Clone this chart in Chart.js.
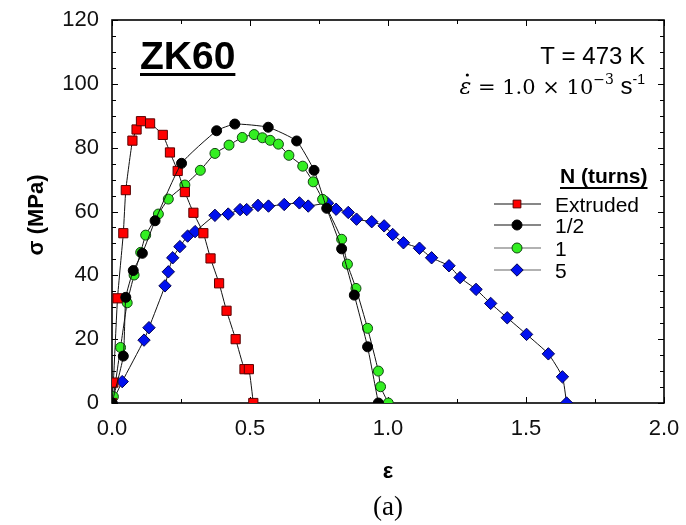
<!DOCTYPE html>
<html>
<head>
<meta charset="utf-8">
<script src="https://cdn.jsdelivr.net/npm/chart.js@4.4.1/dist/chart.umd.min.js"></script>
<style>
  html, body { margin: 0; padding: 0; background: #fff; }
  #wrap { width: 686px; height: 525px; }
</style>
</head>
<body>
<div id="wrap"><canvas id="cv" width="686" height="525"></canvas></div>
<script>
// strain / stress curves, one pair of arrays per condition
var extrudedX = [0, 0.005, 0.02, 0.041, 0.05, 0.074, 0.089, 0.105, 0.138, 0.184, 0.21, 0.238, 0.264, 0.295, 0.331, 0.357, 0.388, 0.415, 0.448, 0.48, 0.496, 0.512];
var extrudedY = [0, 6.4, 32.8, 53.2, 66.7, 82.2, 85.7, 88.3, 87.6, 84.0, 78.5, 72.7, 66.1, 59.6, 53.2, 45.3, 37.5, 28.9, 20.0, 10.6, 10.6, 0];

var halfX = [0, 0.041, 0.05, 0.077, 0.11, 0.156, 0.252, 0.379, 0.445, 0.566, 0.669, 0.732, 0.778, 0.832, 0.878, 0.926, 0.965];
var halfY = [0, 14.7, 33.1, 41.5, 46.9, 57.1, 75.1, 85.3, 87.4, 86.4, 82.1, 72.9, 61.0, 48.3, 33.8, 17.6, 0];

var oneX = [0, 0.005, 0.031, 0.055, 0.08, 0.104, 0.122, 0.168, 0.204, 0.264, 0.32, 0.373, 0.424, 0.472, 0.515, 0.545, 0.573, 0.603, 0.641, 0.691, 0.729, 0.763, 0.832, 0.853, 0.884, 0.926, 0.965, 0.973, 1.001];
var oneY = [0, 2.0, 17.4, 31.4, 40.1, 47.2, 52.6, 59.2, 63.9, 68.3, 72.9, 78.2, 80.8, 83.2, 84.1, 83.1, 82.3, 81.1, 77.6, 74.2, 69.3, 63.8, 51.3, 43.5, 35.9, 23.4, 10.0, 5.1, 0];

var fiveX = [0, 0.037, 0.116, 0.134, 0.192, 0.204, 0.22, 0.246, 0.274, 0.301, 0.373, 0.421, 0.464, 0.488, 0.529, 0.567, 0.624, 0.679, 0.711, 0.781, 0.812, 0.856, 0.886, 0.941, 0.986, 1.017, 1.056, 1.114, 1.158, 1.221, 1.261, 1.319, 1.372, 1.432, 1.502, 1.581, 1.632, 1.647];
var fiveY = [0, 6.7, 19.7, 23.6, 36.7, 41.1, 45.5, 49.0, 52.3, 53.7, 58.8, 59.2, 60.6, 60.6, 61.9, 61.7, 62.2, 62.7, 61.7, 62.6, 60.7, 59.7, 57.6, 56.8, 55.5, 52.8, 50.2, 48.5, 45.5, 43.0, 39.3, 35.6, 31.2, 26.7, 21.5, 15.4, 8.2, 0];

var seriesLabels = ['Extruded', '1/2', '1', '5'];
var xTicks = [0, 0.5, 1.0, 1.5, 2.0];
var yTicks = [0, 20, 40, 60, 80, 100, 120];

function pts(xs, ys) {
    return xs.map(function (x, i) { return { x: x, y: ys[i] }; });
}

function serie(label, xs, ys, style, radius, fill, border, order) {
    return {
        label: label,
        data: pts(xs, ys),
        showLine: true,
        borderColor: '#111',
        borderWidth: 1,
        tension: 0.15,
        pointStyle: style,
        pointRadius: radius,
        pointBackgroundColor: fill,
        pointBorderColor: border,
        pointBorderWidth: 1,
        order: order
    };
}

var datasets = [
    serie(seriesLabels[0], extrudedX, extrudedY, 'rect', 6.5, '#ff0000', '#5a0000', 1),
    serie(seriesLabels[1], halfX, halfY, 'circle', 5, '#000000', '#000000', 0),
    serie(seriesLabels[2], oneX, oneY, 'circle', 5, '#33ee22', '#114411', 2),
    serie(seriesLabels[3], fiveX, fiveY, 'rectRot', 6.2, '#0010ee', '#000050', 3)
];

var FONT = '"Liberation Sans", Arial, sans-serif';

// frame + inward ticks on all 4 sides
var frameTicks = {
    id: 'frameTicks',
    beforeDatasetsDraw: function (chart) {
        var ctx = chart.ctx, a = chart.chartArea;
        var xs = chart.scales.x, ys = chart.scales.y;
        ctx.save();
        ctx.strokeStyle = '#000';
        ctx.lineWidth = 1;
        var v, p, len;
        for (v = 0; v <= 2.0001; v += 0.25) {
            p = Math.round(xs.getPixelForValue(v)) + 0.5;
            len = (Math.abs(v * 2 - Math.round(v * 2)) < 1e-6) ? 6 : 4;
            ctx.beginPath();
            ctx.moveTo(p, a.bottom); ctx.lineTo(p, a.bottom - len);
            ctx.moveTo(p, a.top); ctx.lineTo(p, a.top + len);
            ctx.stroke();
        }
        for (v = 0; v <= 120; v += 5) {
            p = Math.round(ys.getPixelForValue(v)) + 0.5;
            len = (v % 20 === 0) ? 6 : 4;
            ctx.beginPath();
            ctx.moveTo(a.left, p); ctx.lineTo(a.left + len, p);
            ctx.moveTo(a.right, p); ctx.lineTo(a.right - len, p);
            ctx.stroke();
        }
        ctx.lineWidth = 1.6;
        ctx.strokeRect(a.left, a.top, a.right - a.left, a.bottom - a.top);
        ctx.restore();
    }
};

// annotations, legend box and axis titles
var texts = {
    id: 'texts',
    afterDraw: function (chart) {
        var ctx = chart.ctx;
        ctx.save();
        ctx.fillStyle = '#000';
        ctx.strokeStyle = '#000';
        ctx.textBaseline = 'alphabetic';

        // ZK60
        ctx.font = 'bold 39px ' + FONT;
        ctx.textAlign = 'left';
        ctx.fillText('ZK60', 140, 69);
        var w = ctx.measureText('ZK60').width;
        ctx.fillRect(140, 73, w, 3);

        // T = 473 K
        ctx.font = '24px ' + FONT;
        ctx.textAlign = 'right';
        ctx.fillText('T = 473 K', 645, 64);

        // strain rate line, laid out left to right from its right edge
        var serif = '"DejaVu Serif", "Liberation Serif", serif';
        var parts = [
            { t: '\u03b5', f: 'italic 22px ' + serif, dy: 0 },
            { t: ' = 1.0 \u00d7 10', f: '21px ' + serif, dy: 0 },
            { t: '\u22123', f: '14px ' + serif, dy: -10 },
            { t: ' s', f: '24px ' + FONT, dy: 0 },
            { t: '-1', f: '14px ' + FONT, dy: -10 }
        ];
        var total = 0;
        parts.forEach(function (p) { ctx.font = p.f; p.w = ctx.measureText(p.t).width; total += p.w; });
        var x = 645 - total, base = 94;
        ctx.textAlign = 'left';
        parts.forEach(function (p, i) {
            ctx.font = p.f;
            ctx.fillText(p.t, x, base + p.dy);
            if (i === 0) {
                ctx.beginPath();
                ctx.arc(x + p.w / 2 + 2, base - 19, 1.6, 0, Math.PI * 2);
                ctx.fill();
            }
            x += p.w;
        });

        // legend
        ctx.font = 'bold 21px ' + FONT;
        ctx.fillText('N (turns)', 560, 183);
        w = ctx.measureText('N (turns)').width;
        ctx.fillRect(560, 187, w, 2);
        var rows = [204, 225, 248, 270];
        ctx.font = '21px ' + FONT;
        chart.data.datasets.forEach(function (ds, i) {
            var y = rows[i];
            ctx.strokeStyle = i < 2 ? '#111' : '#666';
            ctx.lineWidth = 1.2;
            ctx.beginPath();
            ctx.moveTo(494, y); ctx.lineTo(541, y);
            ctx.stroke();
            ctx.fillStyle = ds.pointBackgroundColor;
            ctx.strokeStyle = ds.pointBorderColor;
            ctx.lineWidth = 1;
            Chart.helpers.drawPoint(ctx, {
                pointStyle: ds.pointStyle,
                radius: ds.pointStyle === 'rect' ? 5.5 : ds.pointRadius,
                rotation: 0,
                borderWidth: 1
            }, 517, y);
            ctx.fillStyle = '#000';
            ctx.fillText(ds.label, 555, y + 8);
        });

        // axis titles
        ctx.font = 'bold 22px ' + FONT;
        ctx.textAlign = 'center';
        ctx.fillText('\u03b5', 388, 478);
        ctx.save();
        ctx.translate(43, 215);
        ctx.rotate(-Math.PI / 2);
        ctx.fillText('\u03c3 (MPa)', 0, 0);
        ctx.restore();

        ctx.font = '27px "Liberation Serif", "Times New Roman", serif';
        ctx.fillText('(a)', 388, 515);
        ctx.restore();
    }
};

var chart = new Chart(document.getElementById('cv').getContext('2d'), {
    type: 'scatter',
    data: { datasets: datasets },
    options: {
        responsive: false,
        animation: false,
        layout: { padding: { top: 20, right: 22, left: 0, bottom: 0 } },
        plugins: { legend: { display: false }, tooltip: { enabled: false } },
        scales: {
            x: {
                type: 'linear',
                min: 0, max: 2,
                afterFit: function (s) { s.height = 122; s.paddingLeft = 0; s.paddingRight = 0; },
                afterBuildTicks: function (s) { s.ticks = xTicks.map(function (v) { return { value: v }; }); },
                grid: { display: false, drawTicks: false },
                border: { display: false },
                ticks: {
                    autoSkip: false, maxRotation: 0, padding: 13,
                    color: '#111',
                    font: { family: FONT, size: 22 },
                    callback: function (v) { return v.toFixed(1); }
                }
            },
            y: {
                type: 'linear',
                min: 0, max: 120,
                afterFit: function (s) { s.width = 112; s.paddingTop = 0; s.paddingBottom = 0; },
                afterBuildTicks: function (s) { s.ticks = yTicks.map(function (v) { return { value: v }; }); },
                grid: { display: false, drawTicks: false },
                border: { display: false },
                ticks: {
                    autoSkip: false, padding: 13,
                    color: '#111',
                    font: { family: FONT, size: 22 }
                }
            }
        }
    },
    plugins: [frameTicks, texts]
});
</script>
</body>
</html>
